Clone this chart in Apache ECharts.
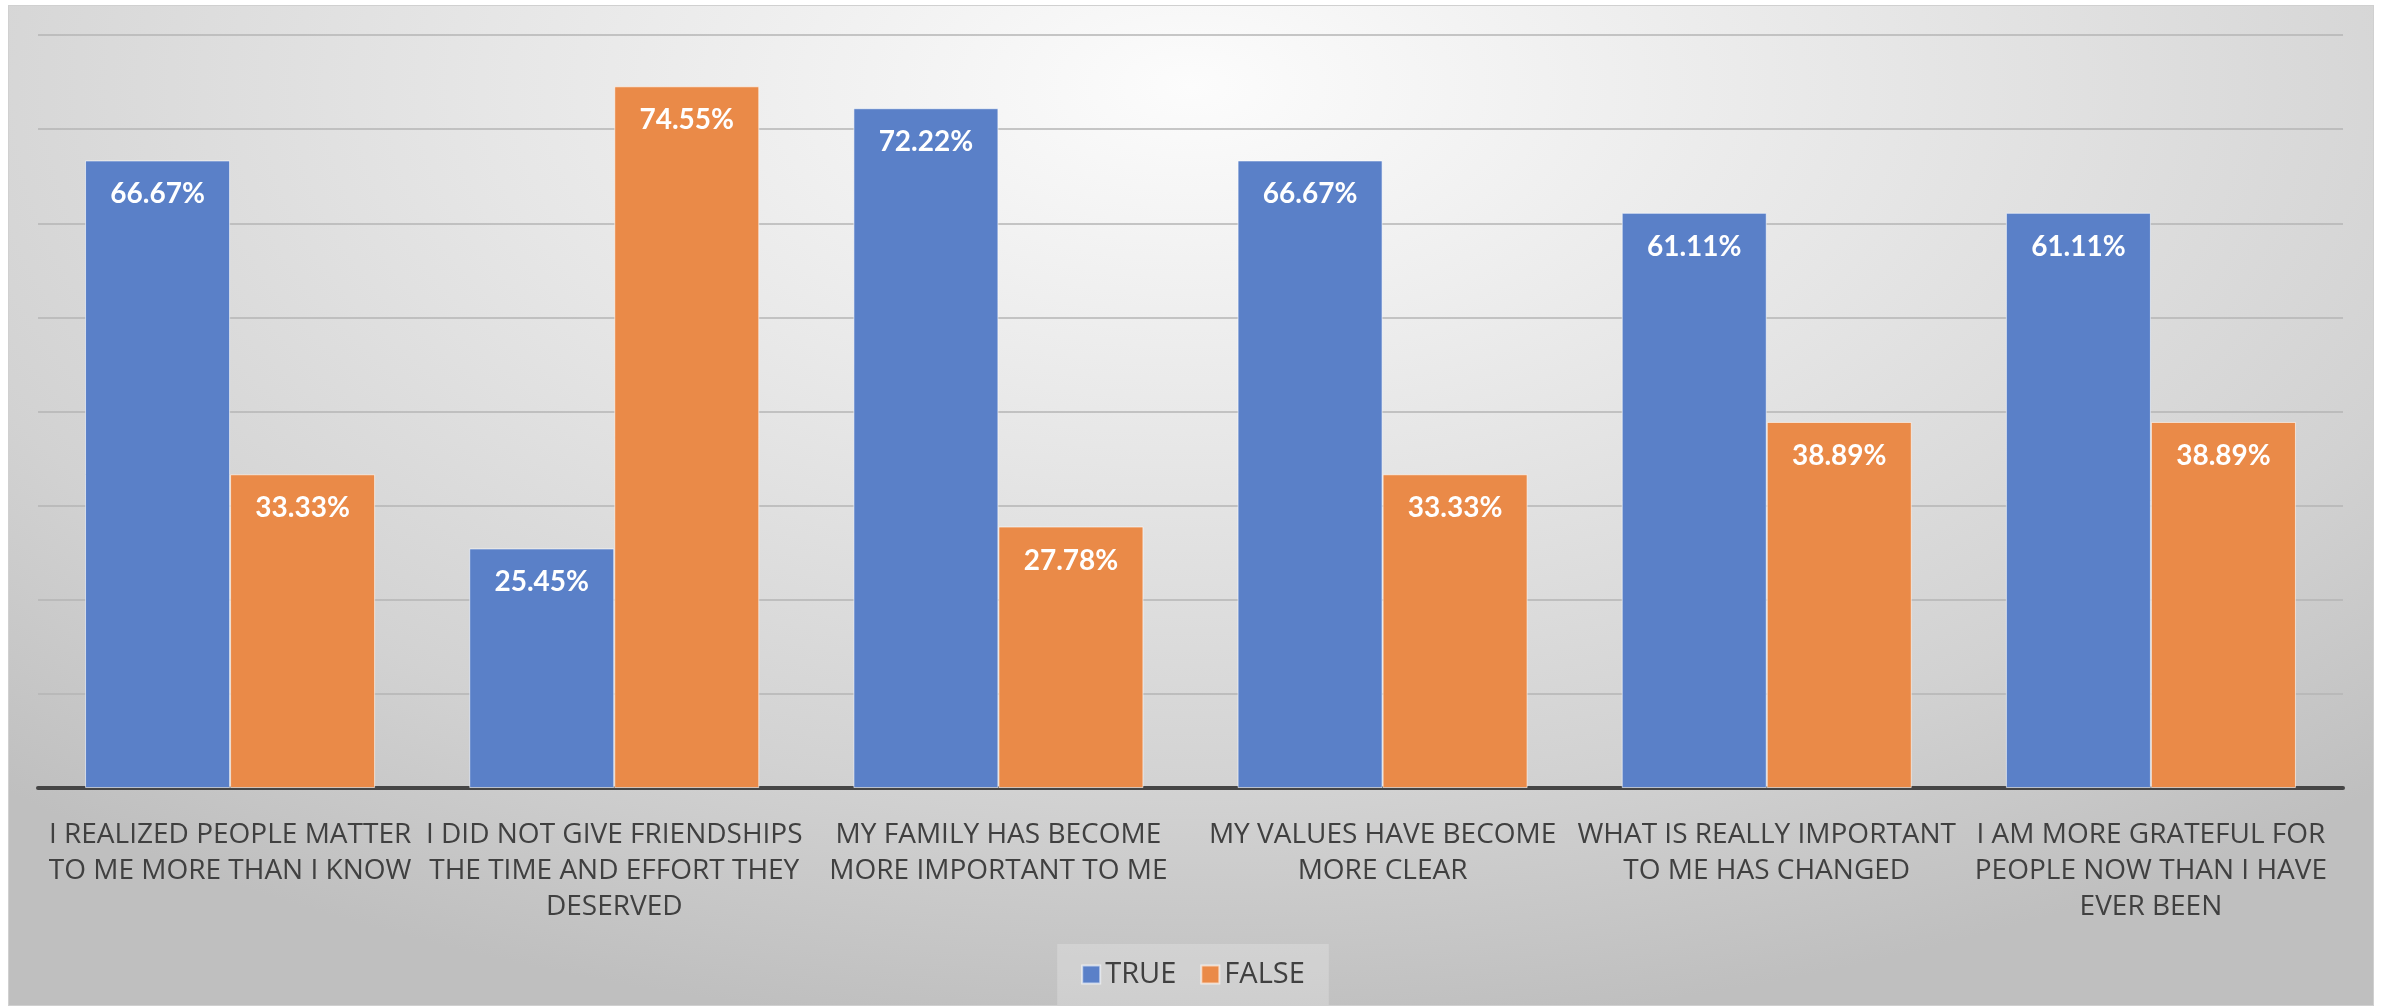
<!DOCTYPE html>
<html>
<head>
<meta charset="utf-8">
<script src="https://cdn.jsdelivr.net/npm/echarts@6/dist/echarts.min.js"></script>
<style>
  html, body { margin: 0; padding: 0; background: #ffffff; }
  #bg { position: absolute; left: 8px; top: 5px; width: 2364px; height: 999px;
        border: 1px solid #d0d0d0;
        background: radial-gradient(ellipse 75% 95% at 50% 8%, #fcfcfc 0%, #e6e6e6 40%, #d2d2d2 75%, #bfbfbf 100%); }
  #chart { position: absolute; left: 0; top: 0; width: 2386px; height: 1008px; }
</style>
</head>
<body>
<div id="bg"></div>
<div id="chart"></div>
<script>
const categories = [
  "I REALIZED PEOPLE MATTER\nTO ME MORE THAN I KNOW",
  "I DID NOT GIVE FRIENDSHIPS\nTHE TIME AND EFFORT THEY\nDESERVED",
  "MY FAMILY HAS BECOME\nMORE IMPORTANT TO ME",
  "MY VALUES HAVE BECOME\nMORE CLEAR",
  "WHAT IS REALLY IMPORTANT\nTO ME HAS CHANGED",
  "I AM MORE GRATEFUL FOR\nPEOPLE NOW THAN I HAVE\nEVER BEEN"
];
const trueValues = [66.67, 25.45, 72.22, 66.67, 61.11, 61.11];
const falseValues = [33.33, 74.55, 27.78, 33.33, 38.89, 38.89];
const seriesNames = ["TRUE", "FALSE"];

const chart = echarts.init(document.getElementById('chart'), null, { renderer: 'canvas' });
const labelCfg = {
  show: true,
  position: 'insideTop',
  distance: 20,
  color: '#ffffff',
  fontFamily: 'Lato, "Open Sans", sans-serif',
  fontWeight: 'bold',
  fontSize: 28,
  formatter: p => p.value.toFixed(2) + '%'
};
chart.setOption({
  backgroundColor: 'transparent',
  animation: false,
  grid: { left: 38, right: 43, top: 35, bottom: 220, containLabel: false },
  legend: {
    data: seriesNames,
    left: 'center',
    top: 944,
    itemWidth: 18,
    itemHeight: 18,
    itemGap: 24,
    padding: [16, 24, 16, 24],
    backgroundColor: 'rgba(255,255,255,0.22)',
    textStyle: { color: '#404040', fontSize: 29, fontFamily: '"Open Sans", sans-serif' },
    icon: 'rect'
  },
  xAxis: {
    type: 'category',
    data: categories,
    axisLine: { show: true, lineStyle: { color: '#454545', width: 4 } },
    axisTick: { show: false },
    axisLabel: {
      color: '#404040',
      fontSize: 28,
      fontFamily: '"Open Sans", sans-serif',
      lineHeight: 36,
      margin: 29,
      interval: 0
    }
  },
  yAxis: {
    type: 'value',
    min: 0,
    max: 80,
    interval: 10,
    axisLabel: { show: false },
    axisLine: { show: false },
    axisTick: { show: false },
    splitLine: { show: true, lineStyle: { color: '#b5b5b5', width: 1.5 } }
  },
  series: [
    {
      name: seriesNames[0],
      type: 'bar',
      data: trueValues,
      barGap: '0%',
      barCategoryGap: '24.5%',
      itemStyle: { color: '#5a80c8', borderColor: 'rgba(255,255,255,0.6)', borderWidth: 1 },
      label: labelCfg
    },
    {
      name: seriesNames[1],
      type: 'bar',
      data: falseValues,
      barGap: '0%',
      barCategoryGap: '24.5%',
      itemStyle: { color: '#ea8a48', borderColor: 'rgba(255,255,255,0.6)', borderWidth: 1 },
      label: labelCfg
    }
  ]
});
</script>
</body>
</html>
